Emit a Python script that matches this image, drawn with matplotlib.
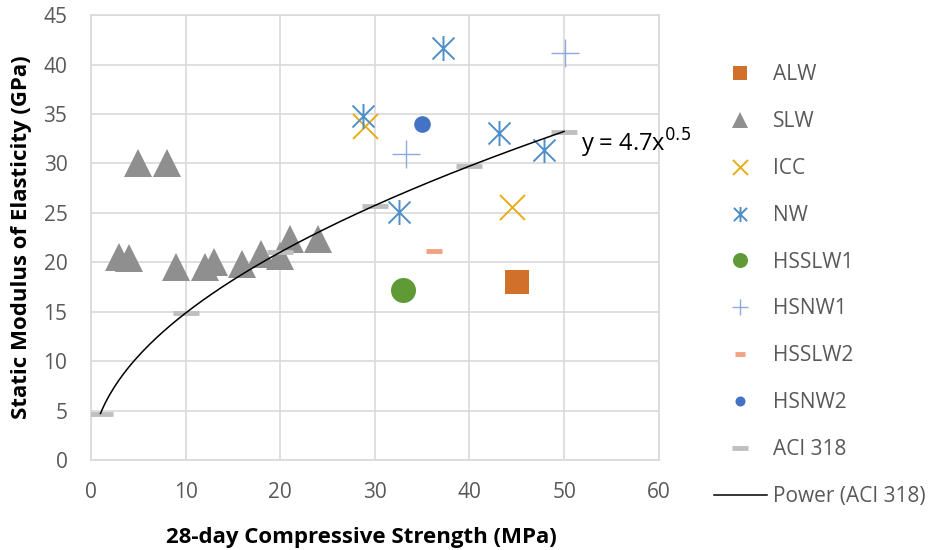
import numpy as np
import matplotlib.pyplot as plt
from matplotlib.path import Path
from matplotlib.lines import Line2D

plt.rcParams['font.family'] = ['Open Sans', 'DejaVu Sans']

# concrete series: 28-day compressive strength (MPa) vs static modulus (GPa)
alw_x = [45.0]
alw_y = [18.0]
slw_x = [3.0, 4.0, 5.0, 8.0, 9.0, 12.0, 13.0, 16.0, 18.0, 20.0, 21.0, 24.0]
slw_y = [20.5, 20.4, 30.0, 30.0, 19.5, 19.5, 20.0, 19.8, 20.8, 20.6, 22.4, 22.4]
icc_x = [29.0, 44.5]
icc_y = [33.8, 25.6]
nw_x = [28.7, 37.2, 43.1, 47.9, 32.6]
nw_y = [34.8, 41.7, 33.1, 31.4, 25.1]
hsslw1_x = [33.0]
hsslw1_y = [17.2]
hsnw1_x = [50.1, 33.3]
hsnw1_y = [41.2, 30.9]
hsslw2_x = [36.3]
hsslw2_y = [21.1]
hsnw2_x = [35.0]
hsnw2_y = [34.0]
aci_x = [1, 10, 20, 30, 40, 50]
aci_y = [4.7, 14.9, 21.0, 25.7, 29.7, 33.2]

# power trendline fitted to ACI 318 points
coef, expo = 4.7, 0.5

asterisk = Path(
    [(0, -1), (0, 1), (-0.88, -0.88), (0.88, 0.88), (-0.88, 0.88), (0.88, -0.88)],
    [Path.MOVETO, Path.LINETO, Path.MOVETO, Path.LINETO, Path.MOVETO, Path.LINETO])
dash = Path([(-1, 0), (1, 0)], [Path.MOVETO, Path.LINETO])

fig = plt.figure(figsize=(9.4, 5.5), dpi=100)
ax = fig.add_axes([0.0968, 0.1636, 0.604, 0.809])

styles = [
    ('ALW', alw_x, alw_y, dict(marker='s', color='#D0702A', ms=17, mew=0)),
    ('SLW', slw_x, slw_y, dict(marker='^', color='#8F8F8F', ms=20, mew=0)),
    ('ICC', icc_x, icc_y, dict(marker='x', color='#E8AC16', ms=18, mew=1.4)),
    ('NW', nw_x, nw_y, dict(marker=asterisk, color='#4F8FC7', ms=18, mew=1.4)),
    ('HSSLW1', hsslw1_x, hsslw1_y, dict(marker='o', color='#5F9A36', ms=18, mew=0)),
    ('HSNW1', hsnw1_x, hsnw1_y, dict(marker='+', color='#8FA9DC', ms=20, mew=1.0)),
    ('HSSLW2', hsslw2_x, hsslw2_y, dict(marker=dash, color='#F2A283', ms=11, mew=3.5)),
    ('HSNW2', hsnw2_x, hsnw2_y, dict(marker='o', color='#4472C4', ms=12, mew=0)),
    ('ACI 318', aci_x, aci_y, dict(marker=dash, color='#BFBFBF', ms=19, mew=3.5)),
]

handles = []
for name, xs, ys, st in styles:
    ax.plot(xs, ys, linestyle='none', zorder=3, **st)
    leg_st = dict(st)
    leg_st['ms'] = st['ms'] * 0.6
    handles.append(Line2D([], [], linestyle='none', label=name, **leg_st))

xf = np.linspace(min(aci_x), max(aci_x), 200)
ax.plot(xf, coef * xf ** expo, color='black', lw=1.1, zorder=4)
handles.append(Line2D([], [], color='black', lw=1.1, label='Power (ACI 318)'))

ax.text(51.8, 32.0, 'y = 4.7x$^{0.5}$', fontsize=17, color='black', va='center', ha='left')

ax.set_xlim(0, 60)
ax.set_ylim(0, 45)
ax.set_xticks(range(0, 61, 10))
ax.set_yticks(range(0, 46, 5))
ax.grid(True, color='#D9D9D9', lw=1.2)
ax.set_axisbelow(True)
for sp in ax.spines.values():
    sp.set_color('#D9D9D9')
    sp.set_linewidth(1.2)
ax.tick_params(length=0, labelsize=15, labelcolor='#595959')
ax.tick_params(axis='x', pad=16)
ax.tick_params(axis='y', pad=17)

ax.set_xlabel('28-day Compressive Strength (MPa)', fontsize=16, fontweight='bold', labelpad=17)
ax.xaxis.label.set_x(0.477)
ax.set_ylabel('Static Modulus of Elasticity (GPa)', fontsize=16, fontweight='bold', labelpad=8)

fig.legend(handles=handles, loc='upper left', bbox_to_anchor=(0.748, 0.902),
           frameon=False, fontsize=15, labelcolor='#595959', labelspacing=1.24,
           handlelength=2.55, handletextpad=0.3, borderpad=0)

fig.savefig('out.png', dpi=100)
